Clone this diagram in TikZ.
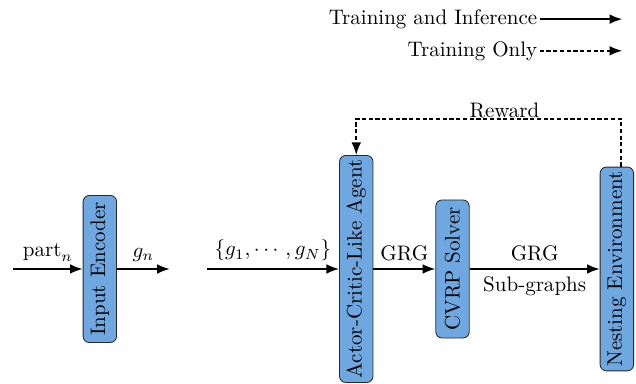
\documentclass[tikz,border=0pt]{standalone}
\usepackage{tikz}
\usetikzlibrary{calc}
\usetikzlibrary{arrows.meta}
\usetikzlibrary{positioning}
\usepackage{color}
\definecolor{boxblue}{RGB}{111, 168, 224}
\definecolor{boxline}{RGB}{40, 40, 40}
\usepackage{amsmath}

\tikzset{
    block/.style={draw=boxline, fill=boxblue, rounded corners=3pt, rotate=90,
                  minimum height=0.56cm, inner sep=2pt},
    flow/.style={-{Latex[length=6pt,width=4.6pt]}, thick},
    trainflow/.style={-{Latex[length=6pt,width=4.6pt]}, thick, dash pattern=on 2pt off 1.2pt}
}

\begin{document}
\begin{tikzpicture}
            \useasboundingbox (0.00, 0.00) rectangle (10.64,-6.41);
            % blocks
            \node[block, minimum width=2.46cm] (enc)    at ( 1.67,-4.50) {Input Encoder};
            \node[block, minimum width=3.78cm] (agent)  at ( 5.96,-4.50) {Actor-Critic-Like Agent};
            \node[block, minimum width=2.31cm] (solver) at ( 7.57,-4.50) {CVRP Solver};
            \node[block, minimum width=3.40cm] (env)    at (10.32,-4.50) {Nesting Environment};
            \coordinate (partin) at (0.22,-4.50);
            \coordinate (gout)   at (2.84,-4.50);
            \coordinate (setin)  at (3.46,-4.50);
            % main flow
            \draw[flow] (partin) -- (enc) node[midway, above] {$\text{part}_n$};
            \draw[flow] (enc) -- (gout) node[midway, above] {$g_n$};
            \draw[flow] (setin) -- (agent) node[midway, above] {$\{g_1,\cdots,g_N\}$};
            \draw[flow] (agent) -- (solver) node[midway, above] {GRG};
            \draw[flow] (solver) -- (env) node[midway, above] {GRG}
                 node[midway, below] {Sub-graphs};
            % reward loop
            \coordinate (envtop) at ($(env.east)+(0.07,0)$);
            \draw[trainflow] (envtop) |- (5.96,-1.99) -- (agent.east);
            \node (reward) at (8.44,-1.84) {Reward};
            % legend
            \coordinate (leg1a) at ( 9.03,-0.32);
            \coordinate (leg1b) at (10.41,-0.32);
            \coordinate (leg2a) at ( 9.03,-0.85);
            \coordinate (leg2b) at (10.41,-0.85);
            \draw[flow]      (leg1a) -- (leg1b);
            \draw[trainflow] (leg2a) -- (leg2b);
            \node[anchor=east, inner sep=1pt] (leg1) at (leg1a) {Training and Inference};
            \node[anchor=east, inner sep=1pt] (leg2) at (leg2a) {Training Only};
        \end{tikzpicture}
\end{document}
